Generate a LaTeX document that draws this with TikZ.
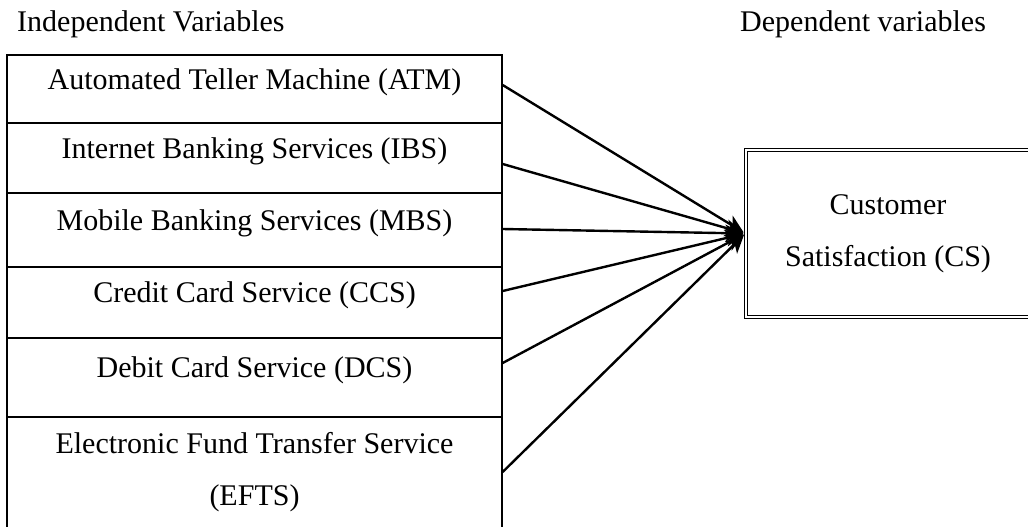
\documentclass[tikz,border=0pt]{standalone}
\usepackage{fontspec}
\setmainfont{Liberation Serif}
\usepackage{tikz}
\usetikzlibrary{arrows.meta,positioning}
\tikzset{
  rowbox/.style={draw=black,line width=1.3pt,minimum width=495,inner sep=0pt},
  csbox/.style={draw=black,line width=1.2pt,double,double distance=1.8pt,minimum width=284,minimum height=167,align=center,inner sep=0pt},
  rowtxt/.style={anchor=base,inner sep=0pt},
  head/.style={anchor=base west,inner sep=0pt},
  link/.style={-{Stealth[length=18pt,width=17pt,inset=5pt]},line width=2.4pt,draw=black,shorten >=2pt}
}

\begin{document}
\begin{tikzpicture}[x=1pt,y=-1pt,font=\fontsize{30}{52}\selectfont]
  \useasboundingbox (0,0) rectangle (1028,527);
  \clip (0,0) rectangle (1028,527);
  \node[head] (indep) at (17,32) {Independent Variables};
  \node[head] (dep) at (740,32) {Dependent variables};
  % dependent variable box, runs past the right edge
  \node[csbox] (cs) at (888,233.5) {Customer\\Satisfaction (CS)};
  % one row per independent variable: name/top/bottom/arrow start/label
  \foreach \n/\top/\bot/\ys/\lab in {atm/55/123/85/{Automated Teller Machine (ATM)},
      ibs/123/193/164/{Internet Banking Services (IBS)},
      mbs/193/267/229/{Mobile Banking Services (MBS)},
      ccs/267/338/291/{Credit Card Service (CCS)},
      dcs/338/417/363/{Debit Card Service (DCS)}}{
    \node[rowbox,minimum height={\bot-\top}] (\n) at (254.5,{(\top+\bot)/2}) {};
    \node[rowtxt] (\n-txt) at (\n.center) {\lab};
    \coordinate (\n-out) at (\n.east |- 0,\ys);
    \draw[link] (\n-out) -- (cs.west);
  }
  % last row is cut off at the bottom
  \node[rowbox,minimum height=150] (efts) at (254.5,492) {};
  \node[anchor=north,align=center,inner sep=0pt] (efts-txt) at (254.5,432) {Electronic Fund Transfer Service\\(EFTS)};
  \coordinate (efts-out) at (efts.east |- 0,472);
  \draw[link] (efts-out) -- (cs.west);
\end{tikzpicture}
\end{document}
